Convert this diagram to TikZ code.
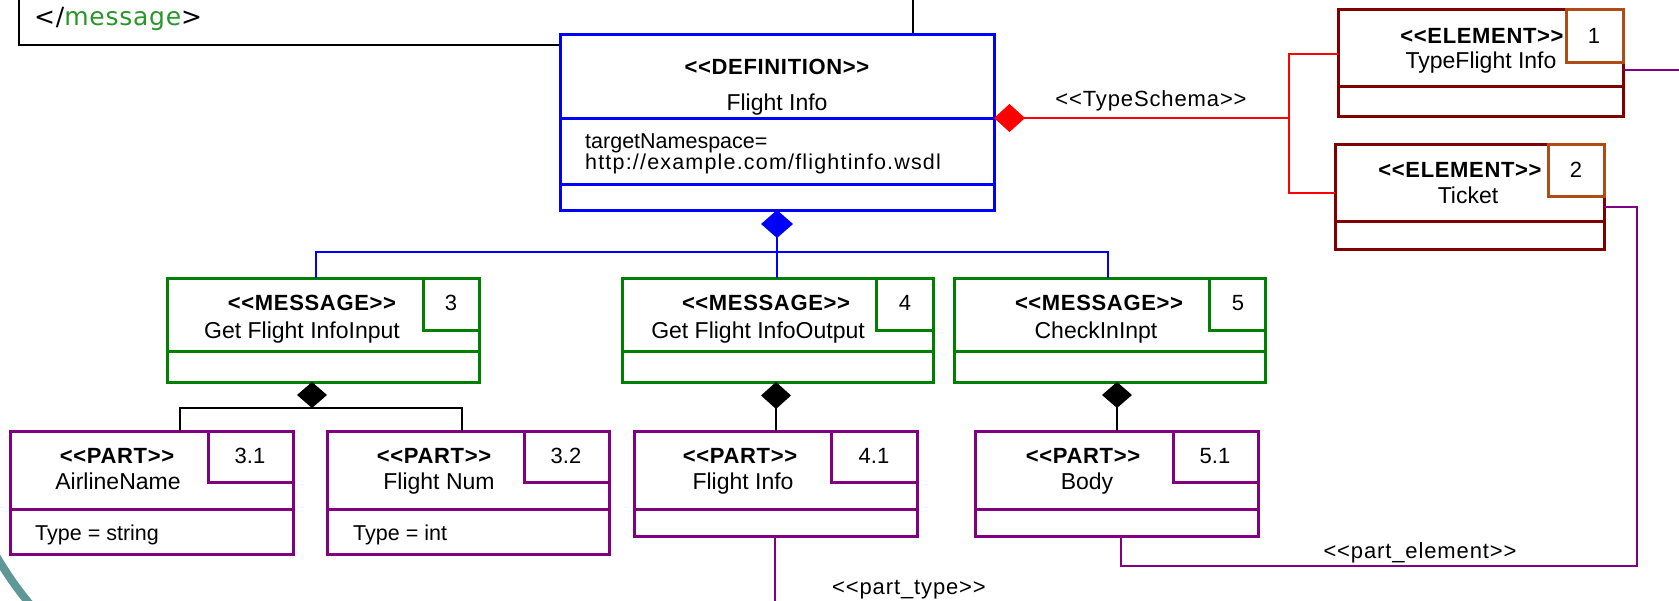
\documentclass[tikz,border=0pt]{standalone}
\usepackage{fontspec}
\setmainfont{Liberation Sans}[Ligatures=TeXOff]
\newfontfamily\stereofont{Liberation Sans}[Ligatures=TeXOff,LetterSpace=3]
\newfontfamily\labelfont{Liberation Sans}[Ligatures=TeXOff,LetterSpace=4]
\newfontfamily\urlfont{Liberation Sans}[Ligatures=TeXOff,LetterSpace=5.5]
\newfontfamily\codefont{DejaVu Sans}[Ligatures=TeXOff,LetterSpace=3]
\usetikzlibrary{arrows.meta}

\definecolor{defblue}{RGB}{0,0,255}
\definecolor{msggreen}{RGB}{0,128,0}
\definecolor{partpurple}{RGB}{128,0,128}
\definecolor{elemred}{RGB}{128,0,0}
\definecolor{numbrown}{RGB}{175,75,20}
\definecolor{schemared}{RGB}{255,0,0}
\definecolor{codegreen}{RGB}{40,150,40}
\definecolor{arcteal}{RGB}{95,150,150}

\tikzset{
  umlframe/.style={draw, line width=3pt, inner sep=0pt, outer sep=0pt, anchor=north west, fill=white},
  divider/.style={line width=3pt},
  stereo/.style={font=\stereofont\bfseries\fontsize{22}{26}\selectfont, inner sep=0pt, anchor=base},
  nametext/.style={font=\fontsize{23}{27}\selectfont, inner sep=0pt, anchor=base},
  attrtext/.style={font=\fontsize{21.5}{25}\selectfont, inner sep=0pt, anchor=base west},
  numtext/.style={font=\fontsize{22}{26}\selectfont, inner sep=0pt, anchor=base},
  connlabel/.style={font=\labelfont\fontsize{22}{26}\selectfont, inner sep=0pt, anchor=base},
  conn/.style={line width=2.8pt},
}

% class box: name, colour, x1, y1, x2, y2, divider rows
\newcommand\umlbox[7]{%
  \node[umlframe, draw=#2, minimum width={(#5-#3)*1pt}, minimum height={(#6-#4)*1pt}] (#1) at (#3,#4) {};
  \foreach \d in {#7} \draw[divider, #2] (#1.west |- 0,\d) -- (#1.east |- 0,\d);
}
% index box in the upper right corner: name, colour, x1, y1, x2, y2
\newcommand\numbox[6]{%
  \node[umlframe, draw=#2, minimum width={(#5-#3)*1pt}, minimum height={(#6-#4)*1pt}] (#1) at (#3,#4) {};
}

\begin{document}
\begin{tikzpicture}[x=1pt,y=-1pt]
\useasboundingbox (0,0) rectangle (1679,600);

% slide decoration in the lower left corner
\begin{scope}
  \clip (0,530) rectangle (90,600);
  \draw[arcteal, line width=8pt] (300,380) circle (351);
\end{scope}

% code listing frame behind the diagram
\node[draw, line width=2.6pt, inner sep=0pt, outer sep=0pt, anchor=south west, fill=white,
      minimum width=894pt, minimum height=70pt] (codeframe) at (19,45) {};
\node[anchor=base west, inner sep=0pt, font=\codefont\fontsize{25}{29}\selectfont]
      (codeline) at (34,25) {</\textcolor{codegreen}{message}>};

% definition
\umlbox{def}{defblue}{560}{34}{994}{210}{118,184}
\node[stereo] (defst) at (777,74) {<<DEFINITION>>};
\node[nametext] (defnm) at (777,110) {Flight Info};
\node[attrtext] (defa1) at (585,148) {targetNamespace=};
\node[attrtext, font=\urlfont\fontsize{21.5}{25}\selectfont] (defa2) at (585,169) {http://example.com/flightinfo.wsdl};

% elements
\umlbox{el1}{elemred}{1338}{9}{1623}{116}{86}
\numbox{el1n}{numbrown}{1566}{9}{1623}{62}
\node[stereo] (el1st) at (1482,43) {<<ELEMENT>>};
\node[nametext] (el1nm) at (1481,68) {TypeFlight Info};
\node[numtext] (el1no) at (1594,43) {1};

\umlbox{el2}{elemred}{1335}{144}{1604}{249}{221}
\numbox{el2n}{numbrown}{1548}{144}{1604}{196}
\node[stereo] (el2st) at (1460,177) {<<ELEMENT>>};
\node[nametext] (el2nm) at (1468,203) {Ticket};
\node[numtext] (el2no) at (1576,177) {2};

% messages
\umlbox{msg3}{msggreen}{167}{278}{479}{382}{351}
\numbox{msg3n}{msggreen}{423}{278}{479}{330}
\node[stereo] (msg3st) at (312,310) {<<MESSAGE>>};
\node[nametext] (msg3nm) at (302,338) {Get Flight InfoInput};
\node[numtext] (msg3no) at (451,310) {3};

\umlbox{msg4}{msggreen}{622}{278}{933}{382}{351}
\numbox{msg4n}{msggreen}{876}{278}{933}{330}
\node[stereo] (msg4st) at (766,310) {<<MESSAGE>>};
\node[nametext] (msg4nm) at (758,338) {Get Flight InfoOutput};
\node[numtext] (msg4no) at (905,310) {4};

\umlbox{msg5}{msggreen}{954}{278}{1265}{382}{351}
\numbox{msg5n}{msggreen}{1209}{278}{1265}{330}
\node[stereo] (msg5st) at (1099,310) {<<MESSAGE>>};
\node[nametext] (msg5nm) at (1096,338) {CheckInInpt};
\node[numtext] (msg5no) at (1238,310) {5};

% parts
\umlbox{p31}{partpurple}{10}{431}{293}{554}{509}
\numbox{p31n}{partpurple}{208}{431}{293}{482}
\node[stereo] (p31st) at (117,463) {<<PART>>};
\node[nametext] (p31nm) at (118,489) {AirlineName};
\node[numtext] (p31no) at (250,463) {3.1};
\node[attrtext] (p31at) at (35,540) {Type = string};

\umlbox{p32}{partpurple}{327}{431}{609}{554}{509}
\numbox{p32n}{partpurple}{524}{431}{609}{482}
\node[stereo] (p32st) at (434,463) {<<PART>>};
\node[nametext] (p32nm) at (439,489) {Flight Num};
\node[numtext] (p32no) at (566,463) {3.2};
\node[attrtext] (p32at) at (353,540) {Type = int};

\umlbox{p41}{partpurple}{634}{431}{917}{536}{509}
\numbox{p41n}{partpurple}{831}{431}{917}{482}
\node[stereo] (p41st) at (740,463) {<<PART>>};
\node[nametext] (p41nm) at (743,489) {Flight Info};
\node[numtext] (p41no) at (874,463) {4.1};

\umlbox{p51}{partpurple}{975}{431}{1258}{536}{509}
\numbox{p51n}{partpurple}{1173}{431}{1258}{482}
\node[stereo] (p51st) at (1083,463) {<<PART>>};
\node[nametext] (p51nm) at (1087,489) {Body};
\node[numtext] (p51no) at (1215,463) {5.1};

% definition -> elements (type schema)
\coordinate (tsj) at (1289,118);
\draw[conn, line width=2.4pt, schemared, {Diamond[length=31pt,width=28pt]}-] (def.east |- tsj) -- (tsj);
\draw[conn, line width=2.4pt, schemared] (el1.west |- 0,54) -| (tsj |- 0,193) -- (el2.west |- 0,193);
\node[connlabel] (tslbl) at (1151,106) {<<TypeSchema>>};

% definition -> messages
\coordinate (dbus) at (777,252);
\draw[conn, defblue, {Diamond[length=28pt,width=32pt]}-] (def.south) -- (def.south |- msg4.north);
\draw[conn, defblue] (msg3.north -| 316,0) |- (dbus) -| (msg5.north -| 1108,0);

% messages -> parts
\coordinate (mbus) at (312,408);
\draw[conn, {Diamond[length=26pt,width=30pt]}-] (msg3.south -| mbus) -- (mbus);
\draw[conn] (p31.north -| 180,0) |- (mbus) -| (p32.north -| 462,0);
\draw[conn, {Diamond[length=27pt,width=30pt]}-] (msg4.south -| 776,0) -- (p41.north -| 776,0);
\draw[conn, {Diamond[length=26pt,width=30pt]}-] (msg5.south -| 1117,0) -- (p51.north -| 1117,0);

% part -> element links
\coordinate (el1out) at (1679,70);
\draw[conn, partpurple] (el1.east |- el1out) -- (el1out);
\coordinate (pecorner) at (1637,566);
\draw[conn, partpurple] (el2.east |- 0,207) -| (pecorner) -| (p51.south -| 1121,0);
\node[connlabel] (pelbl) at (1420,558) {<<part\_element>>};

\coordinate (ptend) at (775,602);
\draw[conn, partpurple] (p41.south -| ptend) -- (ptend);
\node[connlabel] (ptlbl) at (909,594) {<<part\_type>>};
\end{tikzpicture}
\end{document}
